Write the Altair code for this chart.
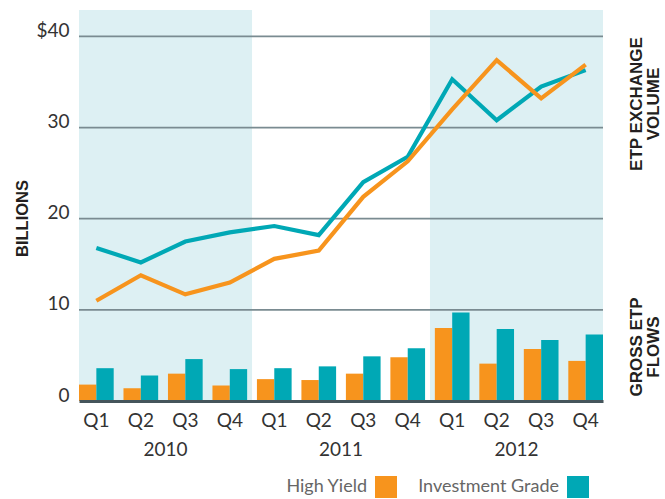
import altair as alt
import pandas as pd

# ---------------- data ----------------
years = ["2010", "2011", "2012"]
quarters = ["Q1", "Q2", "Q3", "Q4"]
shaded_years = ["2010", "2012"]
series = ["High Yield", "Investment Grade"]
colors = ["#F7941D", "#00A8B5"]

# ETP exchange volume (lines), $ billions
hy_volume = [11.0, 13.8, 11.7, 13.0, 15.6, 16.5, 22.4, 26.3, 32.0, 37.4, 33.2, 36.9]
ig_volume = [16.8, 15.2, 17.5, 18.5, 19.2, 18.2, 24.0, 26.8, 35.3, 30.8, 34.5, 36.3]
# Gross ETP flows (bars), $ billions
hy_flows = [1.8, 1.4, 3.0, 1.7, 2.4, 2.3, 3.0, 4.8, 8.0, 4.1, 5.7, 4.4]
ig_flows = [3.6, 2.8, 4.6, 3.5, 3.6, 3.8, 4.9, 5.8, 9.7, 7.9, 6.7, 7.3]

y_ticks = [0, 10, 20, 30, 40]
y_tick_labels = ["0", "10", "20", "30", "$40"]
y_title = "BILLIONS"
right_titles = ["ETP EXCHANGE\nVOLUME", "GROSS ETP\nFLOWS"]

# ---------------- tables ----------------
periods = [f"{y} {q}" for y in years for q in quarters]
vol = pd.DataFrame({
    "period": periods * 2,
    "series": [series[0]] * 12 + [series[1]] * 12,
    "value": hy_volume + ig_volume,
})
flows = pd.DataFrame({
    "period": periods * 2,
    "series": [series[0]] * 12 + [series[1]] * 12,
    "value": hy_flows + ig_flows,
})
year_df = pd.DataFrame({"year": years, "idx": list(range(len(years))),
                        "shaded": [y in shaded_years for y in years]})

W, H = 524, 391
PAD_IN = 0.22
NQ = len(periods)

TICK_FONT = "Lato"
BOLD_FONT = "Liberation Sans, Arial, Helvetica, sans-serif"
TXT = "#333333"

# ---------------- background: shaded years + year labels ----------------
qx = alt.Scale(domain=[0, NQ - PAD_IN], nice=False, zero=False)
year_base = alt.Chart(year_df).transform_calculate(
    start=f"max(0, 4*datum.idx - {PAD_IN}/2)",
    end=f"min({NQ - PAD_IN}, 4*datum.idx + 4 - {PAD_IN}/2)",
).transform_calculate(mid="(datum.start + datum.end)/2")
shade = year_base.transform_filter("datum.shaded").mark_rect(color="#DDF0F3").encode(
    x=alt.X("start:Q", scale=qx, axis=None),
    x2="end:Q",
    y=alt.value(0),
    y2=alt.value(H),
)
year_text = year_base.mark_text(font=TICK_FONT, fontSize=19, color=TXT, baseline="alphabetic").encode(
    x=alt.X("mid:Q", scale=qx, axis=None),
    y=alt.value(446),
    text="year:N",
)
background = alt.layer(shade, year_text)

# ---------------- main ----------------
x_enc = alt.X(
    "period:N",
    sort=periods,
    scale=alt.Scale(domain=periods, paddingInner=PAD_IN, paddingOuter=0),
    axis=alt.Axis(
        title=None, labelExpr="split(datum.value, ' ')[1]", ticks=False, labelAngle=0,
        labelPadding=10, labelFontSize=19, labelFont=TICK_FONT, labelColor=TXT,
        domainColor="#45555B", domainWidth=3, grid=False, zindex=1,
    ),
)
label_expr = "%s[indexof(%s, datum.value)]" % (
    "[" + ",".join("'%s'" % s for s in y_tick_labels) + "]",
    "[" + ",".join(str(v) for v in y_ticks) + "]",
)
y_scale = alt.Scale(domain=[0, 42.9], nice=False, zero=True)
y_enc = alt.Y(
    "value:Q",
    scale=y_scale,
    axis=alt.Axis(
        values=y_ticks, labelExpr=label_expr, grid=False, ticks=False, domain=False,
        labelBaseline="alphabetic", labelPadding=10, labelFontSize=19, labelFont=TICK_FONT,
        labelColor=TXT, title=y_title, titleFont=BOLD_FONT, titleFontWeight="bold",
        titleFontSize=16.5, titleColor="#231F20", titleX=-57, titleY=208, titleAngle=270,
        titleAlign="center", titleBaseline="middle",
    ),
)

grid = alt.Chart(pd.DataFrame({"value": y_ticks[1:]})).mark_rule(
    color="#7A8B91", strokeWidth=1.8
).encode(y=alt.Y("value:Q", scale=y_scale))

bars = alt.Chart(flows).mark_bar().encode(
    x=x_enc,
    xOffset=alt.XOffset("series:N", sort=series,
                        scale=alt.Scale(domain=series, paddingInner=0, paddingOuter=0)),
    y=y_enc,
    color=alt.Color(
        "series:N",
        scale=alt.Scale(domain=series, range=colors),
        legend=alt.Legend(
            title=None, orient="none", legendX=296, legendY=466, direction="horizontal",
            symbolType="square", symbolSize=484, symbolStrokeWidth=0, symbolOpacity=1,
            labelAlign="right", labelOffset={"expr": "-30"}, labelFontSize=18, labelFont=TICK_FONT,
            labelColor="#666666", columnPadding=21, padding=0, labelLimit=300,
        ),
    ),
)

line_ig = alt.Chart(vol).transform_filter(alt.datum.series == series[1]).mark_line(
    color=colors[1], strokeWidth=4.2, strokeJoin="miter"
).encode(x=alt.X("period:N", sort=periods), y=alt.Y("value:Q"))
line_hy = alt.Chart(vol).transform_filter(alt.datum.series == series[0]).mark_line(
    color=colors[0], strokeWidth=4.2, strokeJoin="miter"
).encode(x=alt.X("period:N", sort=periods), y=alt.Y("value:Q"))

side1 = alt.Chart(pd.DataFrame({"t": [right_titles[0]]})).mark_text(
    lineBreak="\n", angle=270, align="center", baseline="middle", font=BOLD_FONT,
    fontWeight="bold", fontSize=17, lineHeight=17, color="#231F20"
).encode(text="t:N", x=alt.value(W + 34), y=alt.value(94))
side2 = alt.Chart(pd.DataFrame({"t": [right_titles[1]]})).mark_text(
    lineBreak="\n", angle=270, align="center", baseline="middle", font=BOLD_FONT,
    fontWeight="bold", fontSize=17, lineHeight=17, color="#231F20"
).encode(text="t:N", x=alt.value(W + 34), y=alt.value(337))

main = alt.layer(grid, bars, line_ig, line_hy, side1, side2)

chart = alt.layer(background, main).resolve_scale(x="independent").properties(
    width=W, height=H,
    autosize=alt.AutoSizeParams(type="none"),
    padding={"left": 79, "top": 10, "right": 62, "bottom": 98},
    background="white",
).configure_view(stroke=None)

chart.save("out.html", embed_options={"renderer": "svg", "actions": False})
